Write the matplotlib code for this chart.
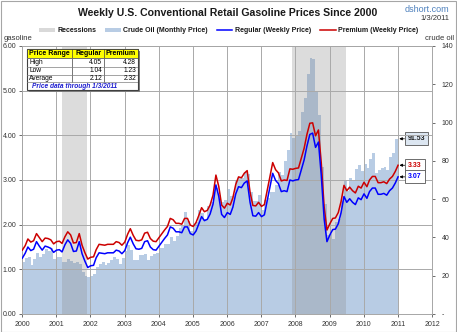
import numpy as np
import pandas as pd
import matplotlib
matplotlib.use("Agg")
import matplotlib.pyplot as plt
import matplotlib.dates as mdates
from matplotlib.patches import Patch, Rectangle
from matplotlib.lines import Line2D

plt.rcParams['font.family'] = ['Liberation Sans', 'DejaVu Sans']

# Crude oil, monthly average $/barrel (2000-01 .. 2010-12)
crude_oil = [
    27.3, 29.4, 29.9, 25.7, 28.8, 31.8, 29.7, 31.3, 33.9, 33.1, 34.4, 28.5,
    29.6, 29.6, 27.2, 27.4, 28.6, 27.6, 26.4, 27.4, 26.2, 22.2, 19.6, 19.3,
    19.7, 20.7, 24.4, 26.3, 27.0, 25.5, 26.9, 28.4, 29.7, 28.9, 26.3, 29.4,
    32.9, 35.9, 33.6, 28.3, 28.1, 30.7, 30.8, 31.6, 28.3, 30.3, 31.1, 32.1,
    34.3, 34.7, 36.7, 36.7, 40.3, 38.0, 40.7, 44.9, 45.9, 53.1, 48.5, 43.3,
    46.8, 48.0, 54.3, 53.0, 49.8, 56.3, 58.7, 65.0, 65.6, 62.4, 58.3, 59.4,
    65.5, 61.6, 62.9, 69.7, 70.9, 71.0, 74.4, 73.1, 63.9, 58.9, 59.1, 62.0,
    54.5, 59.3, 60.4, 63.9, 63.5, 67.5, 74.1, 72.4, 79.9, 85.8, 94.8, 91.7,
    93.0, 95.4, 105.5, 112.6, 125.4, 133.9, 133.4, 116.7, 104.1, 76.6, 57.3, 41.1,
    41.7, 39.1, 47.9, 49.7, 59.0, 69.6, 64.2, 71.1, 69.4, 75.7, 78.0, 74.5,
    78.3, 76.4, 81.2, 84.3, 73.7, 75.3, 76.3, 76.6, 75.2, 81.9, 84.3, 91.53,
]

# Gasoline, $/gallon (monthly readings + latest weekly reading 1/3/2011)
regular = [
    1.25, 1.36, 1.50, 1.42, 1.45, 1.62, 1.52, 1.43, 1.52, 1.50, 1.47, 1.38,
    1.43, 1.44, 1.39, 1.55, 1.66, 1.58, 1.40, 1.41, 1.62, 1.35, 1.18, 1.04,
    1.08, 1.09, 1.26, 1.37, 1.36, 1.35, 1.37, 1.37, 1.37, 1.43, 1.41, 1.35,
    1.42, 1.60, 1.72, 1.57, 1.46, 1.45, 1.47, 1.62, 1.64, 1.50, 1.44, 1.43,
    1.52, 1.61, 1.69, 1.77, 1.95, 1.92, 1.84, 1.84, 1.82, 1.95, 1.95, 1.80,
    1.77, 1.86, 2.01, 2.18, 2.09, 2.12, 2.24, 2.46, 2.89, 2.64, 2.23, 2.16,
    2.27, 2.23, 2.39, 2.69, 2.85, 2.83, 2.93, 2.98, 2.50, 2.20, 2.19, 2.27,
    2.18, 2.22, 2.51, 2.84, 3.15, 2.99, 2.92, 2.74, 2.76, 2.74, 3.00, 2.98,
    3.00, 3.01, 3.22, 3.45, 3.76, 4.02, 4.05, 3.73, 3.85, 3.11, 2.13, 1.62,
    1.77, 1.89, 1.90, 2.02, 2.27, 2.63, 2.50, 2.58, 2.50, 2.45, 2.60, 2.56,
    2.69, 2.59, 2.74, 2.82, 2.82, 2.68, 2.68, 2.70, 2.66, 2.76, 2.82, 2.93,
    3.07,
]
premium = [
    1.43, 1.53, 1.68, 1.61, 1.64, 1.80, 1.71, 1.62, 1.70, 1.69, 1.66, 1.57,
    1.62, 1.63, 1.58, 1.73, 1.84, 1.77, 1.59, 1.60, 1.80, 1.54, 1.37, 1.23,
    1.27, 1.28, 1.44, 1.56, 1.55, 1.54, 1.56, 1.56, 1.56, 1.62, 1.60, 1.54,
    1.61, 1.79, 1.91, 1.76, 1.65, 1.64, 1.66, 1.81, 1.83, 1.69, 1.63, 1.62,
    1.71, 1.80, 1.88, 1.96, 2.14, 2.11, 2.03, 2.03, 2.01, 2.14, 2.14, 1.99,
    1.96, 2.05, 2.20, 2.38, 2.29, 2.32, 2.44, 2.66, 3.11, 2.86, 2.44, 2.37,
    2.48, 2.44, 2.60, 2.90, 3.07, 3.05, 3.15, 3.21, 2.73, 2.43, 2.42, 2.50,
    2.41, 2.45, 2.74, 3.07, 3.39, 3.23, 3.16, 2.98, 3.00, 2.99, 3.25, 3.24,
    3.26, 3.27, 3.48, 3.71, 4.02, 4.27, 4.28, 3.99, 4.12, 3.39, 2.40, 1.88,
    2.02, 2.14, 2.15, 2.27, 2.52, 2.88, 2.76, 2.84, 2.76, 2.71, 2.86, 2.82,
    2.95, 2.85, 3.00, 3.08, 3.08, 2.94, 2.94, 2.96, 2.92, 3.02, 3.08, 3.19,
    3.33,
]

recessions = [("2001-03-01", "2001-11-30"), ("2007-12-01", "2009-06-30")]

table_cols = ["Price Range", "Regular", "Premium"]
table_rows = [("High", "4.05", "4.28"), ("Low", "1.04", "1.23"), ("Average", "2.12", "2.32")]
data_note = "Price data through 1/3/2011"

# dates
month_starts = pd.date_range("2000-01-01", "2011-01-01", freq="MS")
gas_dates = list(month_starts[:-1] + pd.Timedelta(days=3)) + [pd.Timestamp("2011-01-03")]

W, H = 457, 332
fig = plt.figure(figsize=(W / 100, H / 100), dpi=100)
fig.patch.set_facecolor("white")
fig.add_artist(Rectangle((0.5 / W, 0.5 / H), 1 - 1.5 / W, 1 - 1.5 / H,
                         transform=fig.transFigure, fill=False, ec="#a6a6a6", lw=0.8))

ax = fig.add_axes([22 / W, (H - 314) / H, 410 / W, 268 / H])
ax2 = ax.twinx()
ax.set_zorder(ax2.get_zorder() + 1)
ax.patch.set_visible(False)

# crude oil area on right scale
ax2.fill_between(month_starts, list(crude_oil) + [crude_oil[-1]], step="post",
                 color="#b8cce4", lw=0, zorder=1)
ax2.set_ylim(0, 140)
ax2.set_yticks(range(0, 141, 20))
ax2.set_yticklabels(["-"] + [str(v) for v in range(20, 141, 20)])

for start, end in recessions:
    ax.axvspan(pd.Timestamp(start), pd.Timestamp(end), color="#8c8c8c", alpha=0.3, lw=0, zorder=1)

ax.plot(gas_dates, premium, color="#cc0000", lw=1.1, zorder=4)
ax.plot(gas_dates, regular, color="#0000ff", lw=1.1, zorder=5)

ax.set_xlim(pd.Timestamp("2000-01-01"), pd.Timestamp("2012-01-01"))
ax.set_ylim(0, 6)
ax.set_yticks(range(7))
ax.yaxis.set_major_formatter(plt.FormatStrFormatter("%.2f"))
ax.xaxis.set_major_locator(mdates.YearLocator())
ax.xaxis.set_major_formatter(mdates.DateFormatter("%Y"))
ax.grid(True, color="#a9a9a9", lw=0.7, zorder=2)

for a in (ax, ax2):
    a.tick_params(labelsize=5, colors="#333333", length=2, width=0.5, pad=2)
    for s in a.spines.values():
        s.set_color("#a6a6a6")
        s.set_linewidth(0.6)
ax.tick_params(axis="x", length=2, pad=3)
ax2.tick_params(axis="y", pad=5)

# value call-outs at the right end
def callout(axis, x, y, text, color, face):
    axis.annotate(text, xy=(x, y), xytext=(10, 0), textcoords="offset pixels",
                  fontsize=5, color=color, fontweight="bold", va="center", ha="left",
                  bbox=dict(boxstyle="square,pad=0.45", fc=face, ec="#555555", lw=0.6),
                  arrowprops=dict(arrowstyle="-|>", color="black", lw=0.6,
                                  mutation_scale=4, shrinkA=0, shrinkB=1),
                  annotation_clip=False, zorder=10)

end_date = pd.Timestamp("2011-01-01")
callout(ax2, end_date, crude_oil[-1], f"{crude_oil[-1]:.2f}", "#1f1f1f", "#dce6f1")
callout(ax, gas_dates[-1], premium[-1], f"{premium[-1]:.2f}", "#cc0000", "white")
callout(ax, gas_dates[-1], regular[-1], f"{regular[-1]:.2f}", "#0000ff", "white")

# titles and labels
fig.text(228 / W, 1 - 13 / H, "Weekly U.S. Conventional Retail Gasoline Prices Since 2000",
         ha="center", va="center", fontsize=7.6, fontweight="bold", color="#1a1a1a")
fig.text(449 / W, 1 - 9 / H, "dshort.com", ha="right", va="center", fontsize=6.5, color="#4f81bd")
fig.text(449 / W, 1 - 19 / H, "1/3/2011", ha="right", va="center", fontsize=5.5, color="#333333")
fig.text(4 / W, 1 - 38 / H, "gasoline", ha="left", va="center", fontsize=5.5, color="#333333")
fig.text(454 / W, 1 - 38 / H, "crude oil", ha="right", va="center", fontsize=5.5, color="#333333")

handles = [Patch(fc="#d9d9d9", ec="none"), Patch(fc="#b8cce4", ec="none"),
           Line2D([], [], color="#0000ff", lw=1.1), Line2D([], [], color="#cc0000", lw=1.1)]
labels = ["Recessions", "Crude Oil (Monthly Price)", "Regular (Weekly Price)", "Premium (Weekly Price)"]
leg = fig.legend(handles, labels, loc="center", bbox_to_anchor=(229 / W, 1 - 31 / H), ncol=4,
                 frameon=False, fontsize=5, handlelength=2.2, handleheight=0.6,
                 handletextpad=0.4, columnspacing=1.3, borderaxespad=0)
for t in leg.get_texts():
    t.set_fontweight("bold")
    t.set_color("#1a1a1a")

# price range table
tx0, ty0, tw, th = 27, 49, 111, 41
tax = fig.add_axes([tx0 / W, 1 - (ty0 + th) / H, tw / W, th / H])
tax.set_xlim(0, tw)
tax.set_ylim(th, 0)
tax.axis("off")
tax.set_zorder(20)
tax.add_patch(Rectangle((2, 2), tw, th, fc="#808080", ec="none", clip_on=False, zorder=0))
tax.add_patch(Rectangle((0, 0), tw, th, fc="white", ec="#404040", lw=0.8, clip_on=False, zorder=1))
tax.add_patch(Rectangle((0, 0), tw, 9, fc="#ffff00", ec="#404040", lw=0.6, clip_on=False, zorder=2))
col_edges = [0, 45, 77, tw]
row_edges = [0, 9, 18, 25.5, 33]
for x in col_edges[1:-1]:
    tax.plot([x, x], [0, row_edges[-1]], color="#404040", lw=0.5, zorder=3)
for y in row_edges[1:]:
    tax.plot([0, tw], [y, y], color="#7f7f7f", lw=0.5, zorder=3)
tax.text(2, 4.6, table_cols[0], fontsize=5, fontweight="bold", va="center", ha="left", zorder=4)
tax.text(col_edges[2] - 2, 4.6, table_cols[1], fontsize=5, fontweight="bold", va="center", ha="right", zorder=4)
tax.text(col_edges[3] - 2, 4.6, table_cols[2], fontsize=5, fontweight="bold", va="center", ha="right", zorder=4)
for i, (name, reg, prem) in enumerate(table_rows):
    yc = (row_edges[i + 1] + row_edges[i + 2]) / 2
    tax.text(2, yc, name, fontsize=4.8, va="center", ha="left", zorder=4)
    tax.text(col_edges[2] - 2, yc, reg, fontsize=4.8, va="center", ha="right", zorder=4)
    tax.text(col_edges[3] - 2, yc, prem, fontsize=4.8, va="center", ha="right", zorder=4)
tax.text(5, 37, data_note, fontsize=4.8, fontweight="bold", style="italic",
         color="#1f1fd0", va="center", ha="left", zorder=4)

fig.savefig("out.png", dpi=100)
